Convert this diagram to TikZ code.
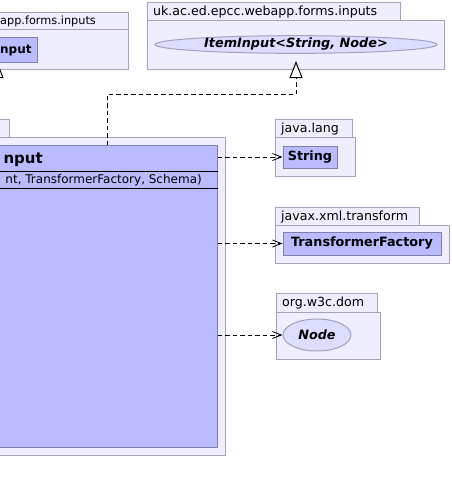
\documentclass[tikz,border=0pt]{standalone}
\usepackage{fontspec}
\setmainfont{DejaVu Sans}
\usetikzlibrary{arrows.meta,shapes.geometric,calc}
\definecolor{pkgfill}{RGB}{238,238,255}
\definecolor{pkgline}{RGB}{165,162,185}
\definecolor{clsfill}{RGB}{187,187,255}
\definecolor{clsline}{RGB}{128,128,170}
\definecolor{ifill}{RGB}{221,221,255}
\definecolor{iline}{RGB}{160,160,190}
\begin{document}
\begin{tikzpicture}[x=1pt,y=-1pt,
  pkg/.style={draw=pkgline,fill=pkgfill,line width=1pt},
  cls/.style={draw=clsline,fill=clsfill,line width=1pt,inner sep=0pt,
    font=\fontsize{12.8}{15}\selectfont\bfseries},
  ifc/.style={ellipse,draw=iline,fill=ifill,line width=1pt,inner sep=0pt,
    font=\fontsize{12.8}{15}\selectfont\bfseries\itshape},
  lbl/.style={inner sep=0pt,font=\fontsize{12.6}{15}\selectfont},
  dep/.style={draw=black,line width=0.8pt,dash pattern=on 4.5pt off 3pt,
    -{Straight Barb[length=9pt,width=7pt,line width=0.8pt]}},
  gen/.style={draw=black,line width=0.8pt,dash pattern=on 4.5pt off 3pt,
    -{Triangle[open,length=17pt,width=13pt,fill=white,line width=1pt]}}]
\useasboundingbox (0,0) rectangle (452,493);

% top-left package (cropped)
\path[pkg] (-50,12) rectangle (128,29);
\path[pkg] (-50,29) rectangle (128,69);
\node[lbl,font=\fontsize{11.3}{14}\selectfont,anchor=base west] (tlpl) at (0,24) {app.forms.inputs};
\node[cls,minimum width=87pt,minimum height=25pt] (tlc) at (-6.5,49.5) {};
\node[lbl,font=\fontsize{12}{14}\selectfont\bfseries,anchor=base west] (tlct) at (0,53.5) {nput};

% top-right package
\path[pkg] (147,2) rectangle (400,20);
\path[pkg] (147,20) rectangle (444,69);
\node[lbl,anchor=base west] (trpl) at (153,15) {uk.ac.ed.epcc.webapp.forms.inputs};
\node[ifc,minimum width=282pt,minimum height=15pt] (item) at (296,44.5) {ItemInput<String, Node>};

% main package (cropped)
\path[pkg] (-50,119) rectangle (9,137);
\path[pkg] (-50,137) rectangle (225,455);
\node[cls,minimum width=277pt,minimum height=302pt] (main) at (78.5,296) {};
\draw[black,line width=0.9pt] (main.west |- 0,171) -- (main.east |- 0,171);
\draw[black,line width=0.9pt] (main.west |- 0,188) -- (main.east |- 0,188);
\node[lbl,font=\fontsize{15}{17}\selectfont\bfseries,anchor=base east] (mtitle) at (43,163.5) {nput};
\node[lbl,font=\fontsize{12}{14}\selectfont,anchor=base east] (mctor) at (202,183) {nt, TransformerFactory, Schema)};

% java.lang
\path[pkg] (275,119) rectangle (352,137);
\path[pkg] (275,137) rectangle (355,176);
\node[lbl,anchor=base west] (jlpl) at (281,132) {java.lang};
\node[cls,minimum width=54pt,minimum height=22pt] (str) at (310,157) {String};

% javax.xml.transform
\path[pkg] (275,207) rectangle (419,225);
\path[pkg] (275,225) rectangle (449,263);
\node[lbl,anchor=base west] (jxpl) at (281,220) {javax.xml.transform};
\node[cls,minimum width=158pt,minimum height=23pt] (tf) at (362,243.5) {TransformerFactory};

% org.w3c.dom
\path[pkg] (276,293) rectangle (377,312);
\path[pkg] (276,312) rectangle (380,359);
\node[lbl,anchor=base west] (dompl) at (282,306) {org.w3c.dom};
\node[ifc,minimum width=68pt,minimum height=32pt] (nd) at (317,335) {Node};

% dependencies
\draw[dep] (main.east |- str.west) -- (str.west);
\draw[dep] (main.east |- tf.west) -- (tf.west);
\draw[dep] (main.east |- nd.west) -- (nd.west);

% generalizations
\coordinate (gsrc) at (107,145);
\coordinate (gbend) at (107,94);
\coordinate (gtip) at (296,61);
\draw[gen] (gsrc) -- (gbend) -| (gtip);
\coordinate (lsrc) at (-3,110);
\coordinate (ltip) at (-3,61);
\draw[gen] (lsrc) -- (ltip);
\end{tikzpicture}
\end{document}
